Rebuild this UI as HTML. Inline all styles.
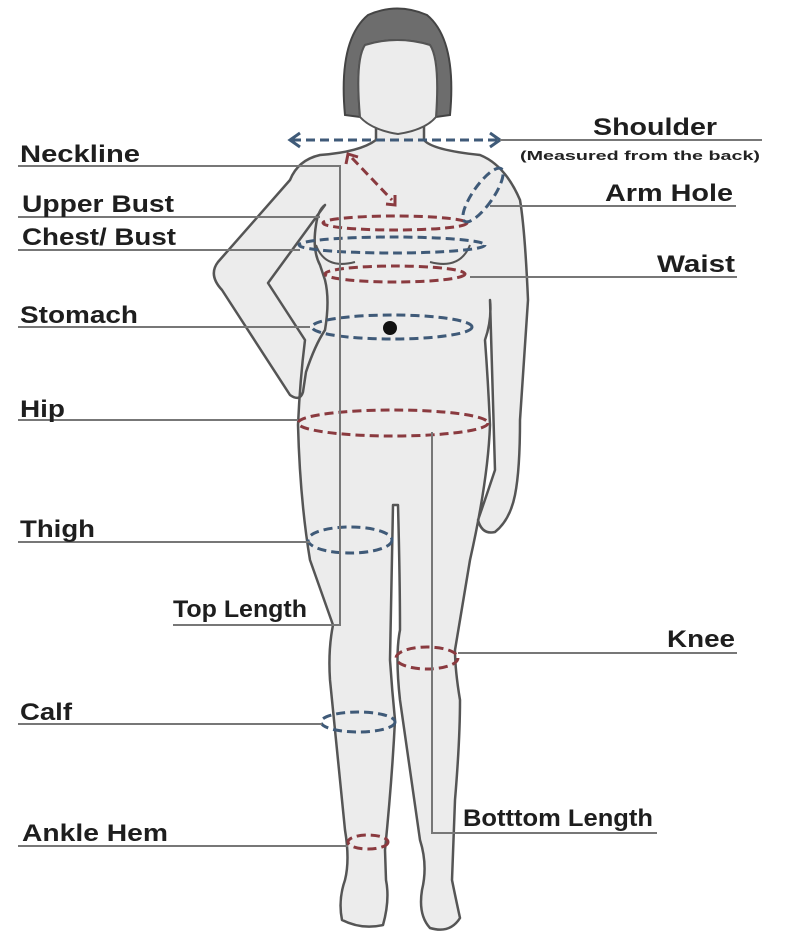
<!DOCTYPE html>
<html><head><meta charset="utf-8"><style>
html,body{margin:0;padding:0;background:#fff;}
svg{display:block}
.t{font-family:"Liberation Sans",sans-serif;font-weight:bold;font-size:24px;fill:#1e1e1e}
.l{stroke:#777;stroke-width:2;fill:none}
.r{stroke:#8a3a3f;stroke-width:3;stroke-dasharray:9 5;fill:none}
.b{stroke:#3f5a78;stroke-width:3;stroke-dasharray:9 5;fill:none}
</style></head><body>
<svg width="794" height="939" viewBox="0 0 794 939" xmlns="http://www.w3.org/2000/svg">
<!-- body -->
<path d="M376,115 L376,140 Q360,152 320,155 Q298,160 290,180 L218,262 Q208,275 222,290 L290,395 Q300,402 303,392 L306,372 Q315,345 325,330 Q330,300 325,280 L320,265 Q312,250 316,225 Q318,210 325,205 L268,283 L305,340 Q300,380 298,425 Q300,500 310,560 L333,625 Q328,650 330,680 L345,830 Q350,860 345,880 Q338,900 342,920 Q362,930 383,925 Q390,900 386,880 L385,850 Q392,780 395,720 Q392,690 390,660 L393,505 L398,505 Q400,580 400,630 Q395,655 400,700 L420,840 Q428,865 422,890 Q418,915 430,928 Q450,934 460,918 Q455,895 452,880 L455,800 Q460,740 460,700 Q455,670 455,650 L470,560 Q488,480 490,425 Q488,380 485,340 Q492,320 490,300 L495,470 Q485,500 478,520 Q482,535 495,532 Q510,520 515,495 Q520,470 520,420 L528,300 Q525,230 520,200 Q505,165 480,155 Q432,150 424,140 L424,115 Z" fill="#ececec" stroke="#555" stroke-width="2.5" stroke-linejoin="round"/>
<!-- hair -->
<path d="M345,115 Q338,40 368,15 Q397,2 427,15 Q457,40 450,115 L436,117 Q440,60 430,45 Q397,35 365,45 Q355,60 360,117 Z" fill="#6d6d6d" stroke="#444" stroke-width="2"/>
<path d="M360,117 Q355,60 365,45 Q397,35 430,45 Q440,60 436,117 Q425,130 398,134 Q372,130 360,117 Z" fill="#ececec" stroke="#555" stroke-width="2"/>
<!-- breasts -->
<path d="M316,245 Q325,270 355,262 M430,262 Q460,270 470,245" stroke="#555" stroke-width="2" fill="none"/>
<!-- measurement rings -->
<ellipse class="r" cx="395" cy="223" rx="72" ry="7"/>
<ellipse class="b" cx="392" cy="245" rx="93" ry="8"/>
<ellipse class="r" cx="395" cy="274" rx="70" ry="8"/>
<ellipse class="b" cx="392" cy="327" rx="80" ry="12"/>
<circle cx="390" cy="328" r="7" fill="#111"/>
<ellipse class="r" cx="393" cy="423" rx="95" ry="13"/>
<ellipse class="b" cx="350" cy="540" rx="42" ry="13"/>
<ellipse class="r" cx="427" cy="658" rx="31" ry="11"/>
<ellipse class="b" cx="358" cy="722" rx="37" ry="10"/>
<ellipse class="r" cx="368" cy="842" rx="20" ry="7"/>
<ellipse class="b" cx="483" cy="195" rx="10" ry="32" transform="rotate(35 483 195)"/>
<!-- shoulder arrow -->
<line class="b" x1="292" y1="140" x2="498" y2="140"/>
<path d="M300,133 L290,140 L300,147 M490,133 L500,140 L490,147" stroke="#3f5a78" stroke-width="3" fill="none"/>
<!-- neck arrow -->
<line class="r" x1="352" y1="158" x2="392" y2="200"/>
<path d="M346,164 L348,154 L358,157 M386,204 L395,205 L395,195" stroke="#8a3a3f" stroke-width="3" fill="none"/>
<!-- leader lines -->
<path class="l" d="M18,166 H340 V625 H173"/>
<path class="l" d="M18,217 H320"/>
<path class="l" d="M18,250 H300"/>
<path class="l" d="M18,327 H310"/>
<path class="l" d="M18,420 H298"/>
<path class="l" d="M18,542 H310"/>
<path class="l" d="M18,724 H322"/>
<path class="l" d="M18,846 H348"/>
<path class="l" d="M500,140 H762"/>
<path class="l" d="M490,206 H736"/>
<path class="l" d="M470,277 H737"/>
<path class="l" d="M458,653 H737"/>
<path class="l" d="M432,432 V833 H657"/>
<!-- labels -->
<text class="t" x="20" y="162" textLength="120" lengthAdjust="spacingAndGlyphs">Neckline</text>
<text class="t" x="22" y="212" textLength="152" lengthAdjust="spacingAndGlyphs">Upper Bust</text>
<text class="t" x="22" y="245" textLength="154" lengthAdjust="spacingAndGlyphs">Chest/ Bust</text>
<text class="t" x="20" y="323" textLength="118" lengthAdjust="spacingAndGlyphs">Stomach</text>
<text class="t" x="20" y="417" textLength="45" lengthAdjust="spacingAndGlyphs">Hip</text>
<text class="t" x="20" y="537" textLength="75" lengthAdjust="spacingAndGlyphs">Thigh</text>
<text class="t" x="173" y="617" textLength="134" lengthAdjust="spacingAndGlyphs">Top Length</text>
<text class="t" x="20" y="720" textLength="52" lengthAdjust="spacingAndGlyphs">Calf</text>
<text class="t" x="22" y="841" textLength="146" lengthAdjust="spacingAndGlyphs">Ankle Hem</text>
<text class="t" x="593" y="135" textLength="124" lengthAdjust="spacingAndGlyphs">Shoulder</text>
<text x="520" y="160" textLength="240" lengthAdjust="spacingAndGlyphs" style="font-family:'Liberation Sans',sans-serif;font-weight:bold;font-size:13px;fill:#222">(Measured from the back)</text>
<text class="t" x="605" y="201" textLength="128" lengthAdjust="spacingAndGlyphs">Arm Hole</text>
<text class="t" x="657" y="272" textLength="78" lengthAdjust="spacingAndGlyphs">Waist</text>
<text class="t" x="667" y="647" textLength="68" lengthAdjust="spacingAndGlyphs">Knee</text>
<text class="t" x="463" y="826" textLength="190" lengthAdjust="spacingAndGlyphs">Botttom Length</text>
</svg>
</body></html>
